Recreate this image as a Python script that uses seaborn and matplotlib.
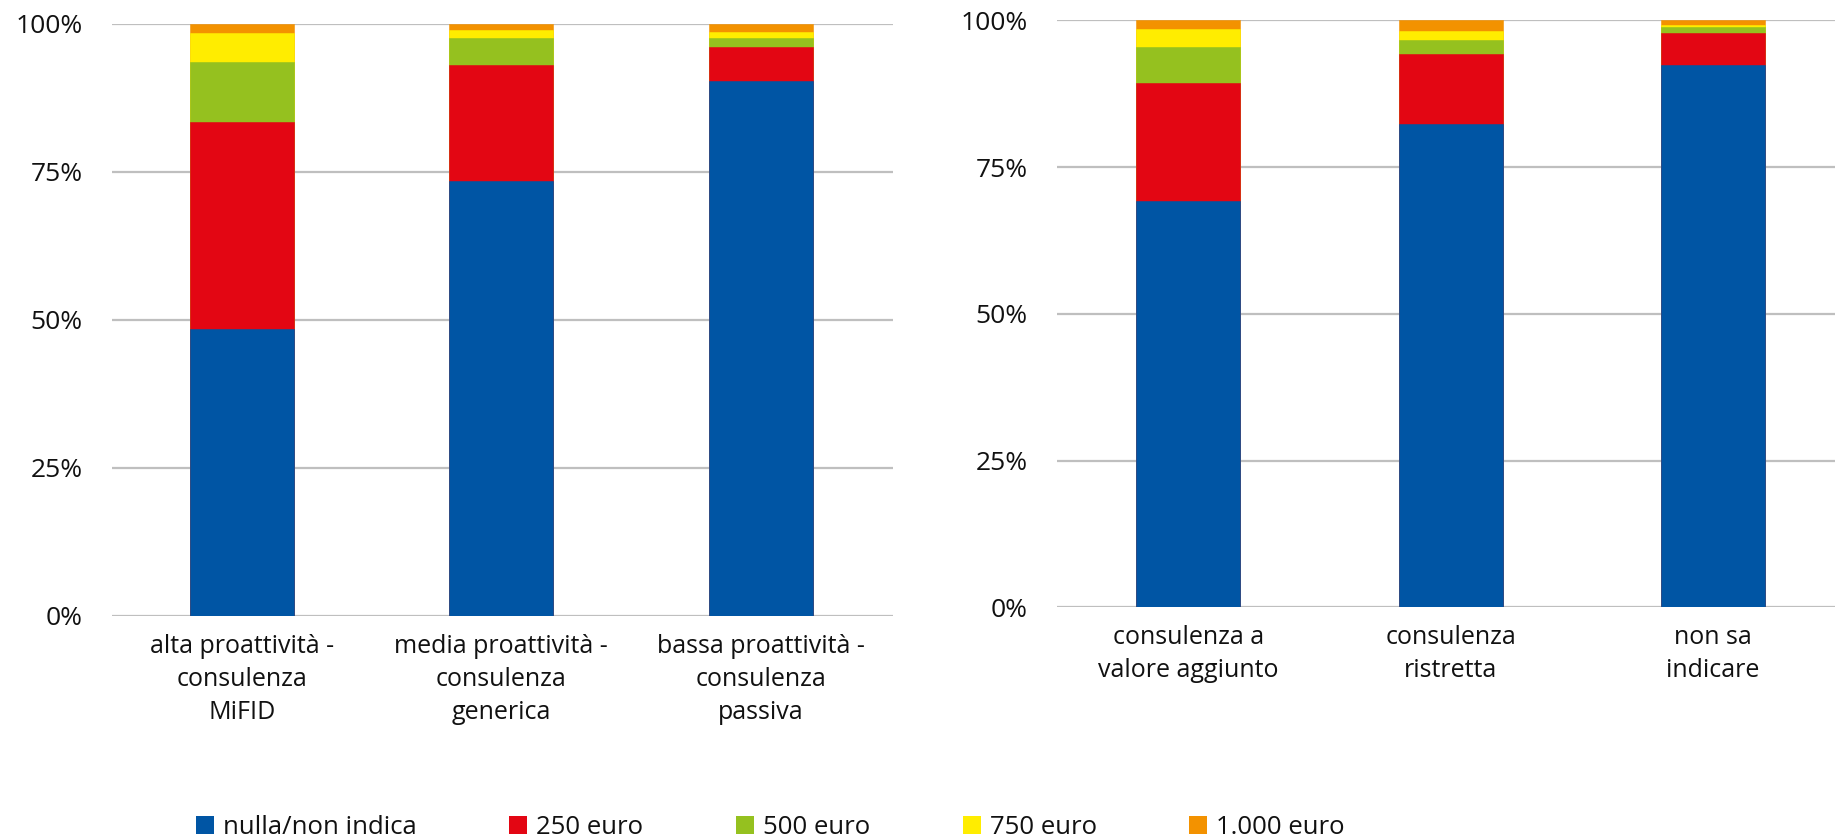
import matplotlib
matplotlib.use("Agg")
import matplotlib.pyplot as plt
from matplotlib.patches import Patch
import seaborn as sns
import numpy as np
import pandas as pd

# ---- data ----
categories_left = ["alta proattività -\nconsulenza\nMiFID",
                   "media proattività -\nconsulenza\ngenerica",
                   "bassa proattività -\nconsulenza\npassiva"]
categories_right = ["consulenza a\nvalore aggiunto",
                    "consulenza\nristretta",
                    "non sa\nindicare"]
series_names = ["nulla/non indica", "250 euro", "500 euro", "750 euro", "1.000 euro"]

left_nulla = [48.4, 73.4, 90.3]
left_250 = [35.0, 19.7, 5.7]
left_500 = [10.1, 4.4, 1.5]
left_750 = [5.0, 1.5, 1.1]
left_1000 = [1.5, 1.0, 1.4]

right_nulla = [69.2, 82.3, 92.4]
right_250 = [20.1, 12.0, 5.4]
right_500 = [6.2, 2.3, 1.0]
right_750 = [3.1, 1.6, 0.5]
right_1000 = [1.4, 1.8, 0.7]

y_ticks = [0, 25, 50, 75, 100]
y_ticklabels = ["0%", "25%", "50%", "75%", "100%"]

colors = ["#0055A4", "#E30613", "#95C11F", "#FFED00", "#F39200"]

sns.set_theme(style="white")
plt.rcParams["font.family"] = ["Open Sans", "DejaVu Sans"]

fig = plt.figure(figsize=(18.37, 8.4), dpi=100)
W, H = 1837.0, 840.0
ax_l = fig.add_axes([112 / W, (H - 615.5) / H, 781 / W, 591.8 / H])
ax_r = fig.add_axes([1057 / W, (H - 607.3) / H, 778 / W, 586.9 / H])


def draw(ax, cats, series, width, xmax):
    df = pd.DataFrame(np.array(series).T, columns=series_names)
    df["cat"] = cats
    cum = df[series_names].cumsum(axis=1)
    for name, col in reversed(list(zip(series_names, colors))):
        sns.barplot(x=df["cat"], y=cum[name], color=col, saturation=1,
                    width=width, ax=ax, order=cats, zorder=3,
                    linewidth=0.4, edgecolor="#f0b0b0" if False else col)
    ax.set_ylim(0, 100)
    ax.set_xlim(-0.5, xmax)
    ax.set_yticks(y_ticks)
    ax.set_yticklabels(y_ticklabels)
    ax.set_xlabel("")
    ax.set_ylabel("")
    ax.grid(axis="y", color="#BFBFBF", linewidth=1.6)
    ax.grid(axis="x", visible=False)
    ax.set_axisbelow(True)
    for s in ax.spines.values():
        s.set_visible(False)
    ax.tick_params(axis="y", length=0, pad=21, labelsize=19, labelcolor="#111111")
    ax.tick_params(axis="x", length=0, pad=13, labelsize=18, labelcolor="#111111")
    for t in ax.get_xticklabels():
        t.set_linespacing(1.42)


draw(ax_l, categories_left, [left_nulla, left_250, left_500, left_750, left_1000], 0.40, 2.51)
draw(ax_r, categories_right, [right_nulla, right_250, right_500, right_750, right_1000], 0.396, 2.465)

handles = [Patch(facecolor=c, edgecolor="none", label=n) for n, c in zip(series_names, colors)]
fig.legend(handles=handles, loc="center left", bbox_to_anchor=(196 / W, 1 - 827 / H),
           ncol=5, frameon=False, fontsize=18.5, handlelength=0.7, handleheight=0.7,
           handletextpad=0.35, columnspacing=3.6, borderpad=0, borderaxespad=0,
           labelcolor="#111111")

fig.savefig("out.png", dpi=100)
